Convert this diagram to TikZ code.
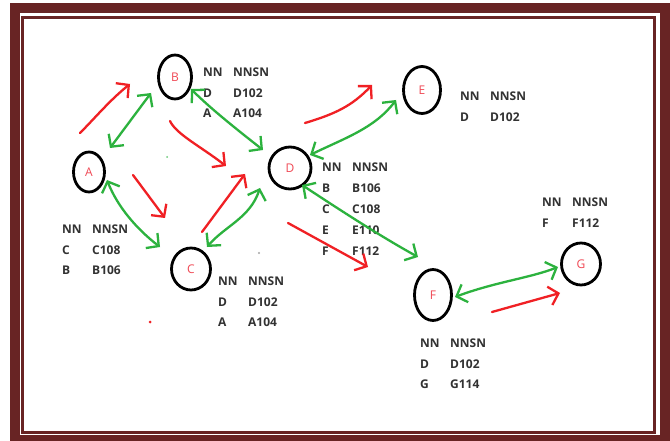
\documentclass[tikz,border=0pt]{standalone}
\usepackage{fontspec}
\setmainfont{Open Sans}
\usetikzlibrary{arrows.meta,shapes.geometric}
\definecolor{framecol}{RGB}{104,36,36}
\definecolor{redpen}{RGB}{240,32,36}
\definecolor{greenpen}{RGB}{44,178,62}
\definecolor{lettercol}{RGB}{240,72,84}
\definecolor{tablecol}{RGB}{50,50,50}

\begin{document}
\begin{tikzpicture}[x=1pt,y=-1pt,
  vertex/.style={draw=black,line width=2.8pt,ellipse,inner sep=0pt,
    text=lettercol,font=\fontsize{12}{12}\selectfont},
  table/.style={anchor=north west,inner sep=0pt,align=left,text=tablecol,
    font=\fontsize{12}{20.7}\selectfont\bfseries},
  redarrow/.style={draw=redpen,line width=2.3pt,line cap=round,line join=round,-{Straight Barb[length=9pt,width=19pt]}},
  greenarrow/.style={draw=greenpen,line width=2.3pt,line cap=round,line join=round,
    {Straight Barb[length=9pt,width=19pt]}-{Straight Barb[length=9pt,width=19pt]}},
]
\newcommand{\cell}[1]{\makebox[30pt][l]{#1}}
\useasboundingbox (0,0) rectangle (670,441);
\fill[white] (0,0) rectangle (670,441);

% double frame
\draw[framecol,line width=10pt] (14.5,8.5) rectangle (665,440);
\draw[framecol,line width=3pt] (22.7,17.3) rectangle (654,432);

% vertices
\node[vertex,minimum width=31pt,minimum height=40pt] (A) at (89,172) {A};
\node[vertex,minimum width=33pt,minimum height=44pt] (B) at (175,77) {B};
\node[vertex,minimum width=39pt,minimum height=42pt] (C) at (191,269) {C};
\node[vertex,minimum width=42pt,minimum height=42pt] (D) at (290,168) {D};
\node[vertex,minimum width=37pt,minimum height=47pt] (E) at (422,90) {E};
\node[vertex,minimum width=37pt,minimum height=51pt] (F) at (433,295) {F};
\node[vertex,minimum width=39pt,minimum height=42pt] (G) at (581,264) {G};

% neighbour tables
\node[table] (tA) at (62,224.5) {\cell{NN}NNSN\\\cell{C}C108\\\cell{B}B106};
\node[table] (tB) at (203,67.5) {\cell{NN}NNSN\\\cell{D}D102\\\cell{A}A104};
\node[table] (tC) at (218,276.5) {\cell{NN}NNSN\\\cell{D}D102\\\cell{A}A104};
\node[table,font=\fontsize{12}{21}\selectfont\bfseries] (tD) at (322,162.5)
  {\cell{NN}NNSN\\\cell{B}B106\\\cell{C}C108\\\cell{E}E110\\\cell{F}F112};
\node[table] (tE) at (460,91.5) {\cell{NN}NNSN\\\cell{D}D102};
\node[table] (tF) at (420,338.5) {\cell{NN}NNSN\\\cell{D}D102\\\cell{G}G114};
\node[table] (tG) at (542,197.5) {\cell{NN}NNSN\\\cell{F}F112};

% free ends of the hand-drawn arrows
\coordinate (r1s) at (80,133);   \coordinate (r1e) at (130,84);
\coordinate (r2s) at (170,121);  \coordinate (r2e) at (226,166);
\coordinate (r3s) at (133,175);  \coordinate (r3e) at (165,218);
\coordinate (r4s) at (202,232);  \coordinate (r4e) at (245,174);
\coordinate (r5s) at (305,123);  \coordinate (r5e) at (372,85);
\coordinate (r6s) at (288,223);  \coordinate (r6e) at (368,267);
\coordinate (r7s) at (492,312);  \coordinate (r7e) at (560,293);

\coordinate (g1a) at (110,148);  \coordinate (g1b) at (151,93);
\coordinate (g2a) at (191,89);   \coordinate (g2b) at (263,150);
\coordinate (g3a) at (107,180);  \coordinate (g3b) at (160,247);
\coordinate (g4a) at (207,247);  \coordinate (g4b) at (260,188);
\coordinate (g5a) at (310,155);  \coordinate (g5b) at (396,100);
\coordinate (g6a) at (302,185);  \coordinate (g6b) at (418,257);
\coordinate (g7a) at (455,297);  \coordinate (g7b) at (558,267);

% red arrows
\draw[redarrow] (r1s) .. controls (95,118) and (110,100) .. (r1e);
\draw[redarrow] (r2s) .. controls (176,134) and (200,146) .. (r2e);
\draw[redarrow] (r3s) -- (r3e);
\draw[redarrow] (r4s) -- (r4e);
\draw[redarrow] (r5s) .. controls (335,114) and (352,106) .. (r5e);
\draw[redarrow] (r6s) -- (r6e);
\draw[redarrow] (r7s) -- (r7e);

% green double arrows
\draw[greenarrow] (g1a) -- (g1b);
\draw[greenarrow] (g2a) .. controls (210,108) and (235,128) .. (g2b);
\draw[greenarrow] (g3a) .. controls (118,208) and (138,230) .. (g3b);
\draw[greenarrow] (g4a) .. controls (225,226) and (250,218) .. (g4b);
\draw[greenarrow] (g5a) .. controls (345,138) and (375,128) .. (g5b);
\draw[greenarrow] (g6a) .. controls (340,210) and (380,236) .. (g6b);
\draw[greenarrow] (g7a) .. controls (495,282) and (530,278) .. (g7b);

% specks
\fill[greenpen!70] (167,157) circle (1pt);
\fill[black!35] (259,253) circle (1.2pt);
\fill[redpen] (150,322) circle (1.5pt);
\end{tikzpicture}
\end{document}
